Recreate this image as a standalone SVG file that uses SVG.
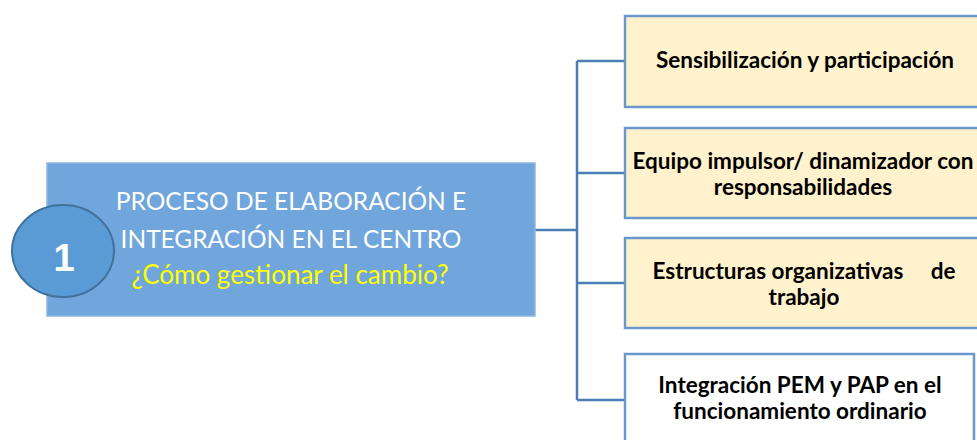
<svg xmlns="http://www.w3.org/2000/svg" width="977" height="440" viewBox="0 0 977 440">
<style>
.box{fill:#FFF2CC;stroke:#6A98CB;stroke-width:2.5}
.box4{fill:#FFFFFF;stroke:#6A98CB;stroke-width:2.5}
.bt{font-family:Lato,"Open Sans",sans-serif;font-weight:bold;font-size:22.5px;fill:#000;text-anchor:middle}
.mt{font-family:Lato,"Open Sans",sans-serif;font-size:24.5px;fill:#FFFFFF;text-anchor:middle}
.conn{fill:none;stroke:#4A7EB5;stroke-width:2.5}
</style>
<g id="connectors">
<path class="conn" d="M535 230 H577 M577 61 V400 M577 61 H625 M577 173 H625 M577 283 H625 M577 400 H625"/>
</g>
<g id="main">
<rect x="47" y="163" width="488" height="153" fill="#70A6DC" stroke="#8DB6E0" stroke-width="1.5"/>
<text class="mt" x="291" y="210">PROCESO DE ELABORACIÓN E</text>
<text class="mt" x="291" y="248">INTEGRACIÓN EN EL CENTRO</text>
<text class="mt" x="290" y="284" style="fill:#FFFF00;font-size:26px">¿Cómo gestionar el cambio?</text>
</g>
<g id="circle">
<ellipse cx="63" cy="251" rx="51" ry="46" fill="#5B9BD5" stroke="#41719C" stroke-width="2"/>
<text x="64" y="271" font-family="Liberation Sans, Arial, sans-serif" font-weight="bold" font-size="38" fill="#FFFFFF" text-anchor="middle">1</text>
</g>
<g id="n1">
<rect class="box" x="625" y="16" width="360" height="91"/>
<text class="bt" x="805" y="68">Sensibilización y participación</text>
</g>
<g id="n2">
<rect class="box" x="625" y="128" width="360" height="90"/>
<text class="bt" x="803" y="169">Equipo impulsor/ dinamizador con</text>
<text class="bt" x="803" y="195">responsabilidades</text>
</g>
<g id="n3">
<rect class="box" x="625" y="238" width="360" height="90"/>
<text class="bt" x="804" y="279" xml:space="preserve">Estructuras organizativas     de</text>
<text class="bt" x="804" y="305">trabajo</text>
</g>
<g id="n4">
<rect class="box4" x="625" y="354" width="349" height="100"/>
<text class="bt" x="800" y="393">Integración PEM y PAP en el</text>
<text class="bt" x="800" y="419">funcionamiento ordinario</text>
</g>
</svg>
